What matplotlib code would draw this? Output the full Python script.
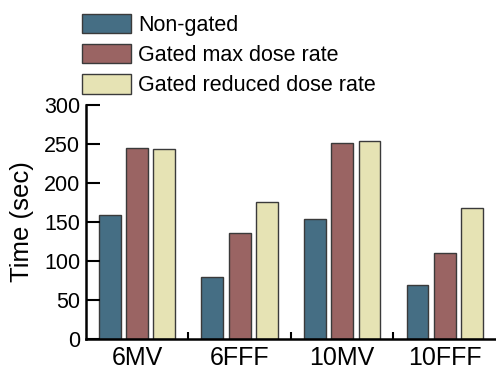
import matplotlib.pyplot as plt
import numpy as np
from matplotlib.patches import Patch

plt.rcParams['font.family'] = ['Liberation Sans', 'DejaVu Sans']

# Beam delivery times per energy
energies = ["6MV", "6FFF", "10MV", "10FFF"]
series_names = ["Non-gated", "Gated max dose rate", "Gated reduced dose rate"]
non_gated = [159, 80, 154, 69]
gated_max = [245, 136, 251, 110]
gated_reduced = [243, 175, 254, 168]

colors = ["#456e84", "#9a6463", "#e6e3b4"]
edge = "#3a3a3a"

fig = plt.figure(figsize=(4.96, 3.71), dpi=100)
ax = fig.add_axes([0.173, 0.0863, 0.827, 0.6307])

x = np.arange(len(energies))
pitch = 0.266
width = 0.213
for i, (vals, c) in enumerate(zip([non_gated, gated_max, gated_reduced], colors)):
    ax.bar(x + (i - 1) * pitch, vals, width=width, color=c, edgecolor=edge, linewidth=1.0)

ax.set_xlim(-0.5, 3.5)
ax.set_ylim(0, 300)
ax.set_yticks(np.arange(0, 301, 50))
ax.set_xticks(x)
ax.set_xticklabels(energies, fontsize=18)
ax.set_xticks([0.5, 1.5, 2.5], minor=True)
ax.tick_params(axis='x', which='major', length=0, pad=5)
ax.tick_params(axis='x', which='minor', direction='in', length=5, width=1.5)
ax.tick_params(axis='y', direction='in', length=10, width=1.5, labelsize=15.5, pad=4)
ax.set_ylabel("Time (sec)", fontsize=18.5, labelpad=7)

for side in ['top', 'right']:
    ax.spines[side].set_visible(False)
for side in ['left', 'bottom']:
    ax.spines[side].set_linewidth(1.8)

handles = [Patch(facecolor=c, edgecolor=edge, linewidth=1.0, label=n) for c, n in zip(colors, series_names)]
fig.legend(handles=handles, loc='upper left', bbox_to_anchor=(0.139, 0.997), frameon=False,
           fontsize=15.5, handlelength=2.3, handleheight=1.0, handletextpad=0.3,
           labelspacing=0.38, borderaxespad=0.2)

fig.savefig("out.png", dpi=100)
